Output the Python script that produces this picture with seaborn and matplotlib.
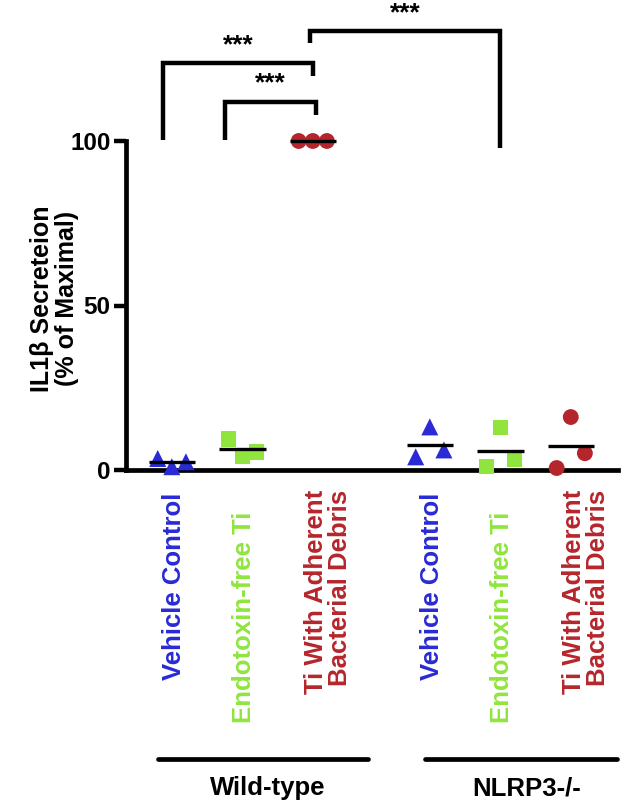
import numpy as np
import pandas as pd
import matplotlib
matplotlib.use("Agg")
import matplotlib.pyplot as plt
import seaborn as sns

# ---------------- data ----------------
treatments = ["Vehicle Control", "Endotoxin-free Ti", "Ti With Adherent\nBacterial Debris"]
genotypes = ["Wild-type", "NLRP3-/-"]
wt_vehicle = [3.5, 1.0, 2.5]
wt_endotoxin = [9.4, 4.0, 5.5]
wt_ti_debris = [100.0, 100.0, 100.0]
ko_vehicle = [4.0, 13.1, 6.1]
ko_endotoxin = [1.0, 12.8, 3.3]
ko_ti_debris = [0.6, 16.1, 5.1]
y_ticks = [0, 50, 100]
y_label = "IL1β Secreteion\n(% of Maximal)"
sig_label = "***"

# ---------------- layout / style ----------------
colors = {"Vehicle Control": "#2a2ad6", "Endotoxin-free Ti": "#8fe53d",
          "Ti With Adherent\nBacterial Debris": "#b5262c"}
markers = {"Vehicle Control": "^", "Endotoxin-free Ti": "s",
           "Ti With Adherent\nBacterial Debris": "o"}
sizes = {"Vehicle Control": 150, "Endotoxin-free Ti": 120,
         "Ti With Adherent\nBacterial Debris": 130}
group_pos = [[0.0, 1.0, 2.0], [3.66, 4.66, 5.66]]
rep_offsets = [-0.2, 0.0, 0.2]

series = [[wt_vehicle, wt_endotoxin, wt_ti_debris],
          [ko_vehicle, ko_endotoxin, ko_ti_debris]]

rows = []
for g, geno in enumerate(genotypes):
    for t, treat in enumerate(treatments):
        for r, v in enumerate(series[g][t]):
            rows.append({"genotype": geno, "treatment": treat,
                         "x": group_pos[g][t] + rep_offsets[r], "xc": group_pos[g][t],
                         "value": v})
df = pd.DataFrame(rows)

sns.set_theme(style="ticks")
plt.rcParams["font.family"] = ["Liberation Sans", "DejaVu Sans"]
plt.rcParams["font.weight"] = "bold"
plt.rcParams["text.color"] = "black"
plt.rcParams["ytick.color"] = "black"
plt.rcParams["axes.labelcolor"] = "black"

fig = plt.figure(figsize=(6.31, 8.07), dpi=100)
ax = fig.add_axes([126 / 631, 1 - 470 / 807, (618 - 126) / 631, (470 - 141) / 807])

sns.scatterplot(data=df, x="x", y="value", hue="treatment", style="treatment",
                size="treatment", sizes=sizes,
                palette=colors, markers=markers, linewidth=0, legend=False,
                ax=ax, clip_on=False, zorder=3)

# mean lines
means = df.groupby(["genotype", "treatment"], sort=False).agg(xc=("xc", "first"), m=("value", "mean")).reset_index()
for _, row in means.iterrows():
    ax.hlines(row["m"], row["xc"] - 0.33, row["xc"] + 0.33, color="black", lw=2.4,
              zorder=4, clip_on=False)

ax.set_xlim(-0.65, 6.33)
ax.set_ylim(0, 100)
ax.set_yticks(y_ticks)
ax.set_yticklabels([str(v) for v in y_ticks], fontsize=17.5, fontweight="bold", color="black")
ax.set_xticks([])
ax.set_xlabel("")
ax.set_ylabel("")
for s in ["top", "right"]:
    ax.spines[s].set_visible(False)
for s in ["left", "bottom"]:
    ax.spines[s].set_linewidth(3.4)
    ax.spines[s].set_color("black")
ax.tick_params(axis="y", length=9, width=3.2, pad=2, color="black")

# y label
ax.text(-0.145, 0.52, y_label, transform=ax.transAxes, rotation=90, ha="center",
        va="center", fontsize=18, fontweight="bold", linespacing=1.05, color="black")

# significance brackets
brackets = [  # x_left, x_right, top, left_bottom, right_bottom
    (-0.12, 2.0, 123.7, 100.3, 119.8),
    (0.75, 2.04, 111.9, 100.3, 107.9),
    (1.96, 4.66, 133.4, 129.8, 97.9),
]
for xl, xr, top, lb, rb in brackets:
    ax.plot([xl, xl, xr, xr], [lb, top, top, rb], color="black", lw=3.2,
            clip_on=False, solid_joinstyle="miter", solid_capstyle="butt")
    ax.text((xl + xr) / 2, top + 5.5, sig_label, ha="center", va="center",
            fontsize=19, fontweight="bold", color="black")

# category labels
trans = ax.get_xaxis_transform()
label_y = [-0.07, -0.128, -0.061]
label_dx = [0.03, 0.02, 0.22]
for g in range(2):
    for t, treat in enumerate(treatments):
        ax.text(group_pos[g][t] + label_dx[t], label_y[t], treat, transform=trans,
                rotation=90, ha="center", va="top", color=colors[treat],
                fontsize=18.5, fontweight="bold", linespacing=1.0,
                multialignment="right")

# genotype lines and labels
group_lines = [(-0.2, 2.78), (3.59, 6.31)]
group_text_x = [1.36, 5.04]
for (x0, x1), gx, geno in zip(group_lines, group_text_x, genotypes):
    ax.plot([x0, x1], [-0.878, -0.878], transform=trans, color="black", lw=3.4,
            clip_on=False, solid_capstyle="round")
    ax.text(gx, -0.967, geno, transform=trans, ha="center", va="center",
            fontsize=18.5, fontweight="bold", color="black")

fig.savefig("out.png", dpi=100)
